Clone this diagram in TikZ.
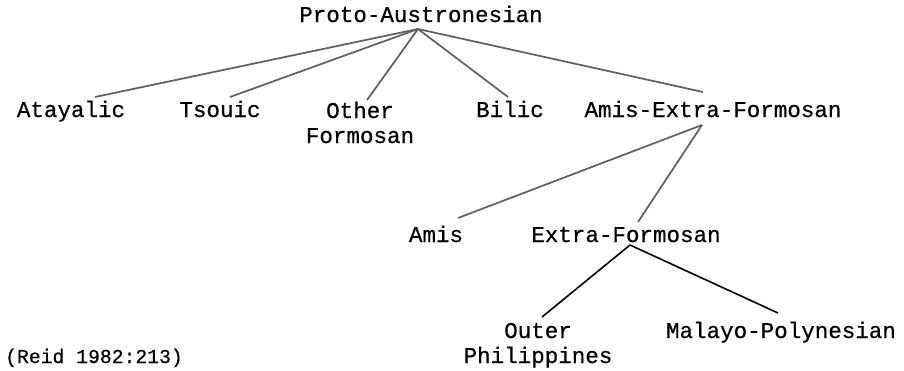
\documentclass[tikz,border=0pt]{standalone}
\usepackage{fontspec}
\setmainfont{Liberation Mono}[FakeBold=0.6]
\begin{document}
\begin{tikzpicture}[x=0.75pt,y=-0.75pt,
  lbl/.style={inner sep=0pt,anchor=base,align=center,font=\fontsize{16.9}{18.75}\selectfont},
  upper/.style={draw=black!62,line width=1.3pt},
  lower/.style={draw=black,line width=1.2pt}]
\useasboundingbox (0,0) rectangle (904,371);
\node[lbl] (pa)  at (421,22)  {Proto-Austronesian};
\node[lbl] (ata) at (71,117)  {Atayalic};
\node[lbl] (tso) at (220,117) {Tsouic};
\node[lbl] (oth) at (360,143) {Other\\Formosan};
\node[lbl] (bil) at (510,117) {Bilic};
\node[lbl] (aef) at (713,117) {Amis-Extra-Formosan};
\node[lbl] (ami) at (436,242) {Amis};
\node[lbl] (ext) at (626,242) {Extra-Formosan};
\node[lbl] (out) at (538,363) {Outer\\Philippines};
\node[lbl] (mal) at (781,338) {Malayo-Polynesian};
\node[lbl,font=\fontsize{14.8}{16}\selectfont] (reid) at (94,363) {(Reid 1982:213)};
\coordinate (paB) at ([shift={(-3,7)}]pa.base);
\coordinate (aefB) at ([shift={(-11,8)}]aef.base);
\coordinate (extB) at ([shift={(4,3)}]ext.base);
\draw[upper] (paB) -- ([shift={(24,-20)}]ata.base);
\draw[upper] (paB) -- ([shift={(10,-20)}]tso.base);
\draw[upper] (paB) -- ([shift={(7,-43)}]oth.base);
\draw[upper] (paB) -- ([shift={(-2,-20)}]bil.base);
\draw[upper] (paB) -- ([shift={(-10,-25)}]aef.base);
\draw[upper] (aefB) -- ([shift={(22,-24)}]ami.base);
\draw[upper] (aefB) -- ([shift={(12,-20)}]ext.base);
\draw[lower] (extB) -- ([shift={(4,-46)}]out.base);
\draw[lower] (extB) -- ([shift={(-3,-25)}]mal.base);
\end{tikzpicture}
\end{document}
